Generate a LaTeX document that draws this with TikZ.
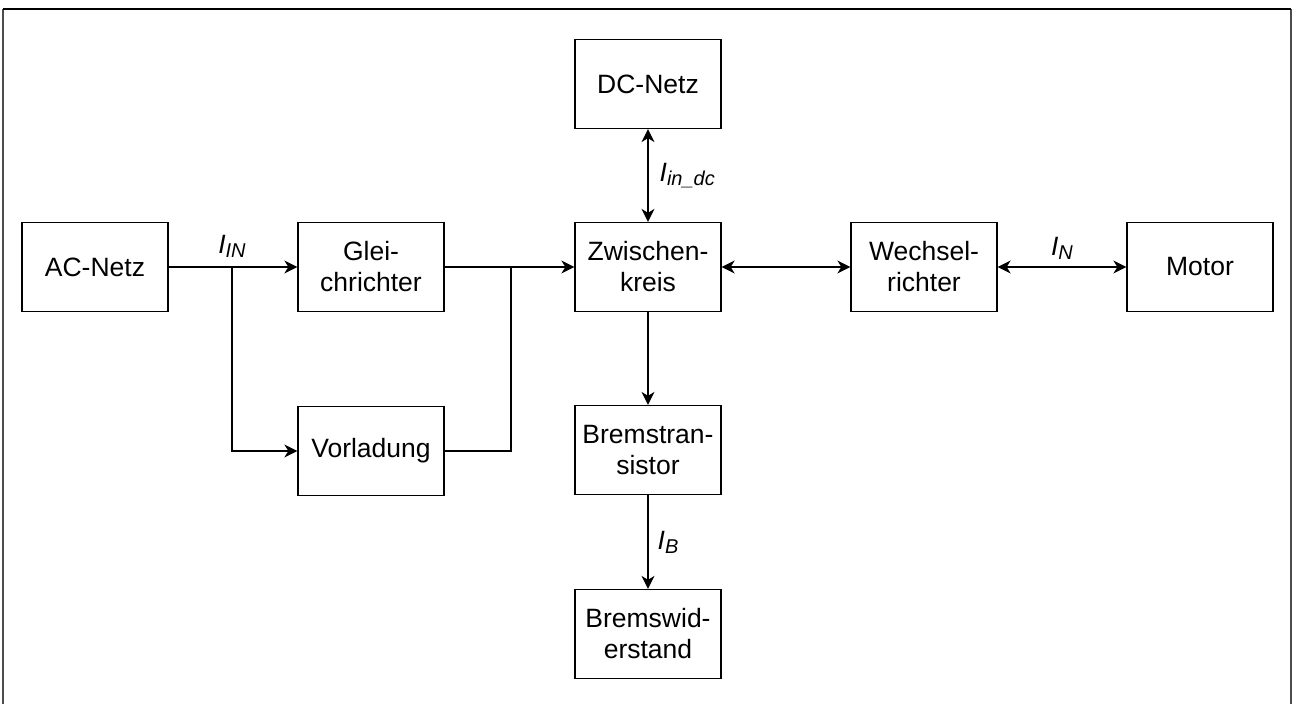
\documentclass[tikz,border=0pt]{standalone}
\usepackage{fontspec}
\setmainfont{Liberation Sans}
\usetikzlibrary{arrows.meta,positioning}

\tikzset{
  block/.style={draw, line width=0.65pt, minimum width=73pt, minimum height=44.5pt,
    inner sep=0pt, align=center, font=\fontsize{13.25}{15.5}\selectfont},
  curlabel/.style={inner sep=1.5pt, font=\fontsize{13.25}{15.5}\selectfont}
}
\newcommand{\curr}[1]{\textit{I}\raisebox{-0.3ex}{\fontsize{10}{12}\selectfont\textit{#1}}}

\begin{document}
\begin{tikzpicture}[x=0.5pt, y=-0.5pt, line width=0.65pt, >={Stealth[length=6.5pt,width=6.5pt,inset=2pt]}]
\useasboundingbox (0,0) rectangle (1293,704);

% frame
\draw[line width=1pt, black!70] (3,704) -- (3,9);
\draw[line width=1pt, black!70] (1291,704) -- (1291,9);
\draw[line width=0.8pt] (3,9) -- (1291,9);

\node[block] (ac) at (95,267) {AC-Netz};
\node[block] (gl) at (371,267) {Glei-\\chrichter};
\node[block] (vl) at (371,451) {Vorladung};
\node[block] (dc) at (648,84) {DC-Netz};
\node[block] (zw) at (648,267) {Zwischen-\\kreis};
\node[block] (bt) at (648,450) {Bremstran-\\sistor};
\node[block] (bw) at (648,634) {Bremswid-\\erstand};
\node[block] (wr) at (924,267) {Wechsel-\\richter};
\node[block] (mo) at (1200,267) {Motor};

\coordinate (jin) at (232,267);
\coordinate (jout) at (511,267);

\draw[->] (ac) -- (gl);
\draw[->] (jin) |- (vl);
\draw[->] (gl) -- (zw);
\draw (vl) -| (jout);
\draw[<->] (dc) -- (zw) node (lindc) [midway, right, curlabel, xshift=4pt] {\curr{in\_dc}};
\draw[<->] (zw) -- (wr);
\draw[<->] (wr) -- (mo) node (ln) [midway, above, curlabel, yshift=2pt] {\curr{N}};
\draw[->] (zw) -- (bt);
\draw[->] (bt) -- (bw) node (lb) [midway, right, curlabel, xshift=3pt] {\curr{B}};

\node[curlabel, above=3pt of jin] (lin) {\curr{IN}};
\end{tikzpicture}
\end{document}
